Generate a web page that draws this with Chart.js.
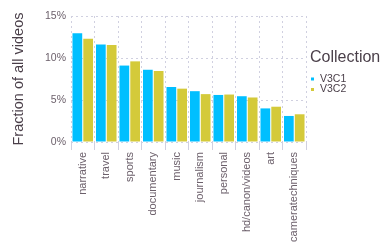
<!DOCTYPE html>
<html>
<head>
<meta charset="utf-8">
<script src="https://cdn.jsdelivr.net/npm/chart.js@4/dist/chart.umd.min.js"></script>
<style>
  html, body { margin: 0; padding: 0; background: #fff; }
  #wrap { width: 383px; height: 249px; }
</style>
</head>
<body>
<div id="wrap"><canvas id="chart" width="383" height="249"></canvas></div>
<script>
const categories = ["narrative", "travel", "sports", "documentary", "music", "journalism",
  "personal", "hd/canon/videos", "art", "cameratechniques"];
const v3c1 = [12.95, 11.6, 9.1, 8.6, 6.55, 6.05, 5.6, 5.45, 4.0, 3.1];
const v3c2 = [12.3, 11.55, 9.6, 8.45, 6.35, 5.7, 5.65, 5.3, 4.2, 3.3];
const yTicks = [0, 5, 10, 15];

const tickColor = "#6c606b";
const titleColor = "#4a3f49";
const gridColor = "#d0d0e0";
const fontFamily = "Liberation Sans";

// legend drawn by hand so the title can sit over the keys like the original
const legendPlugin = {
  id: "sideLegend",
  afterDraw(chart) {
    const c = chart.ctx;
    const x = chart.chartArea.right + 4;
    c.save();
    c.textBaseline = "middle";
    c.fillStyle = titleColor;
    c.font = "16px " + fontFamily;
    c.fillText("Collection", x, 57.5);
    c.font = "10.5px " + fontFamily;
    chart.data.datasets.forEach((ds, i) => {
      const y = 79 + i * 10.5;
      c.fillStyle = ds.backgroundColor;
      c.fillRect(x + 1, y - 1.5, 3, 3);
      c.fillStyle = titleColor;
      c.fillText(ds.label, x + 10, y);
    });
    c.restore();
  },
};

const ctx = document.getElementById("chart").getContext("2d");
const chart = new Chart(ctx, {
  type: "bar",
  data: {
    labels: categories,
    datasets: [
      {
        label: "V3C1",
        data: v3c1,
        backgroundColor: "#00bfff",
        barPercentage: 0.9,
        categoryPercentage: 0.92,
      },
      {
        label: "V3C2",
        data: v3c2,
        backgroundColor: "#d4ca3a",
        barPercentage: 0.9,
        categoryPercentage: 0.92,
      },
    ],
  },
  plugins: [legendPlugin],
  options: {
    responsive: false,
    animation: false,
    layout: { padding: { top: 16, right: 77, bottom: 0, left: 0 } },
    plugins: {
      tooltip: { enabled: false },
      legend: { display: false },
    },
    scales: {
      y: {
        min: 0,
        max: 15,
        afterBuildTicks: (axis) => {
          axis.ticks = yTicks.map((v) => ({ value: v }));
        },
        afterFit: (axis) => {
          axis.width = 71;
        },
        title: {
          display: true,
          text: "Fraction of all videos",
          color: titleColor,
          font: { family: fontFamily, size: 14.5 },
          padding: { top: 10, bottom: 0 },
        },
        ticks: {
          color: tickColor,
          font: { family: fontFamily, size: 10.5 },
          padding: 5,
          callback: (v) => v + "%",
        },
        grid: {
          color: gridColor,
          drawTicks: false,
        },
        border: { display: false, dash: [2, 3] },
      },
      x: {
        afterFit: (axis) => {
          axis.height = 107;
        },
        ticks: {
          color: tickColor,
          font: { family: fontFamily, size: 11 },
          maxRotation: 90,
          minRotation: 90,
          padding: 2,
        },
        grid: {
          color: gridColor,
          tickLength: 8,
        },
        border: { display: false, dash: [2, 3] },
      },
    },
  },
});
</script>
</body>
</html>
